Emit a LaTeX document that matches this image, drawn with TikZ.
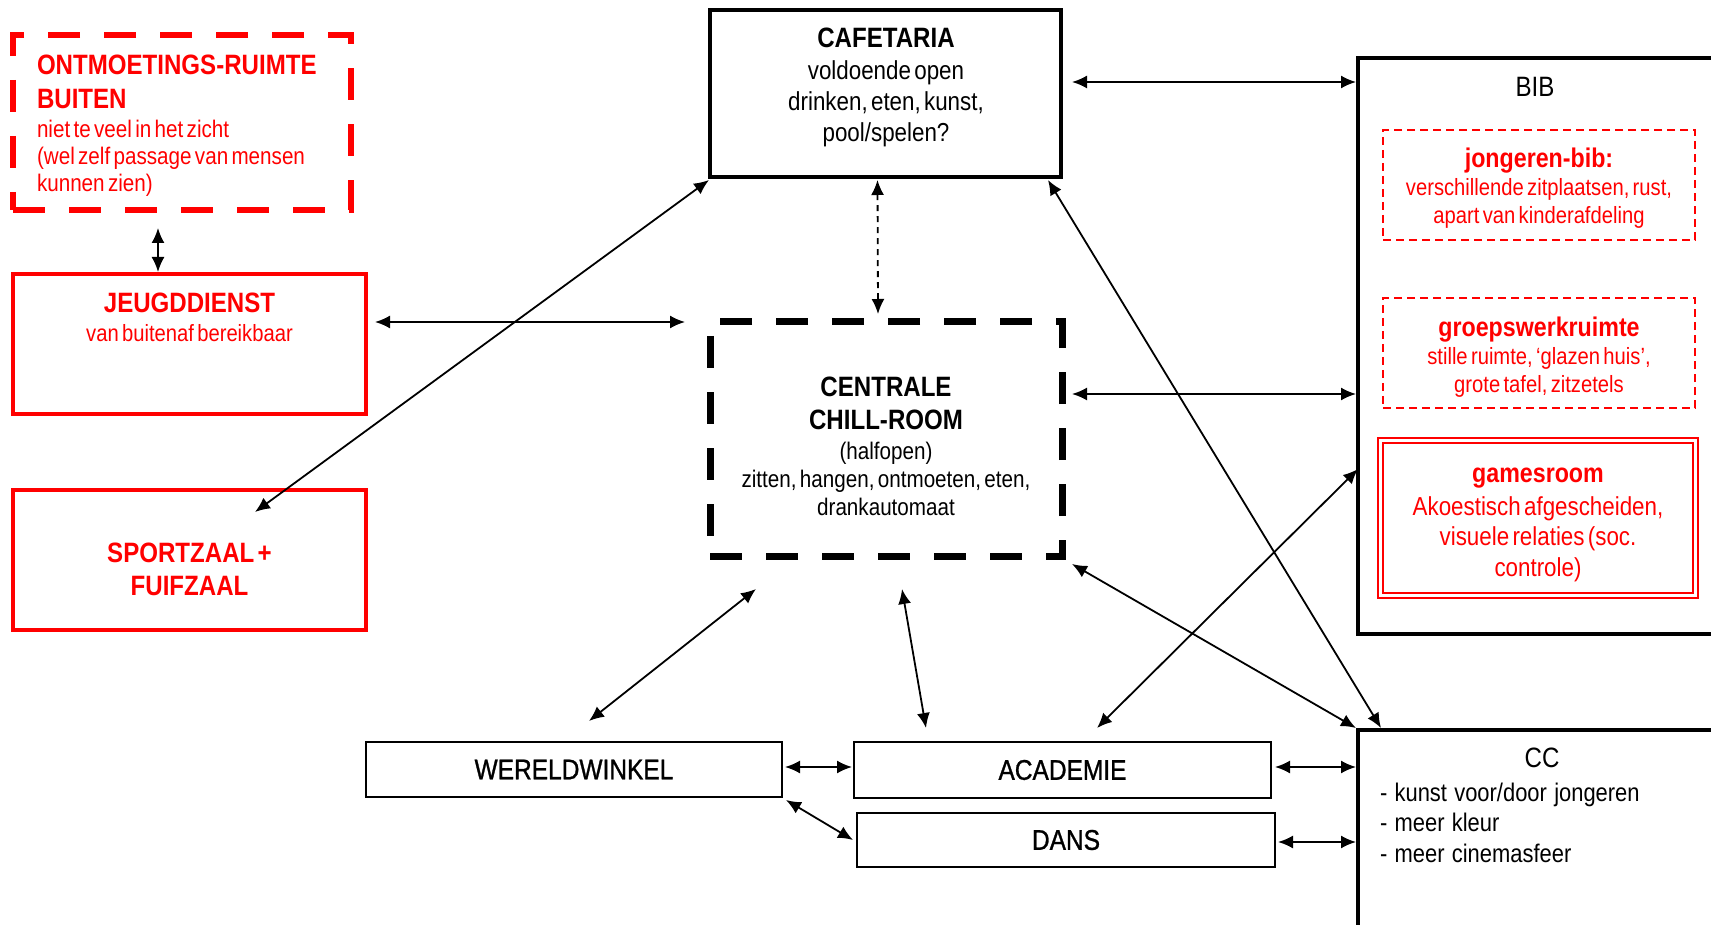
\documentclass[tikz,border=0pt]{standalone}
\usepackage{fontspec}
\setmainfont{Liberation Sans}[FakeStretch=0.86,WordSpace=1.2]
\newfontfamily\medfont{Liberation Sans}[FakeStretch=0.86,FakeBold=1,WordSpace=1.2]
\usetikzlibrary{arrows.meta,calc}
\newcommand\myfs[2]{\fontsize{#1}{#2}\selectfont}
\begin{document}
\begin{tikzpicture}[x=1pt,y=-1pt,
  box/.style={draw, rectangle, inner sep=0pt, outer sep=0pt},
  blackbox/.style={box, draw=black, line width=3.5pt},
  smallbox/.style={box, draw=black, line width=2.5pt, font=\medfont\myfs{28.5}{33}},
  redbox/.style={box, draw=red, line width=3.5pt},
  reddash/.style={box, draw=red, line width=2pt, dash pattern=on 8pt off 5pt},
  txt/.style={inner sep=0pt, outer sep=0pt, align=center},
  arr/.style={{Latex[length=15pt,width=13pt]}-{Latex[length=15pt,width=13pt]}, line width=1.8pt},
]
\useasboundingbox (0,0) rectangle (1711,925);
\clip (0,0) rectangle (1711,925);

% left column
\node[box, draw=red, line width=6.5pt, dash pattern=on 32pt off 24pt,
      minimum width=338, minimum height=175] (ontm) at (182,122.5) {};
\node[txt, text=red, anchor=north west, text width=305pt, align=left] (ontmtxt) at (37,55)
  {\myfs{28}{34}\bfseries ONTMOETINGS-RUIMTE\\BUITEN\par\vspace{2pt}
   \myfs{24}{27}\mdseries niet te veel in het zicht\\(wel zelf passage van mensen\\kunnen zien)\par};

\node[redbox, minimum width=353, minimum height=140] (jeugd) at (189.5,344) {};
\node[txt, text=red, anchor=north, text width=340pt] (jeugdtxt) at (189.5,293)
  {\centering\myfs{28}{34}\bfseries JEUGDDIENST\par\myfs{23.5}{28.5}\mdseries van buitenaf bereikbaar\par};

\node[redbox, minimum width=353, minimum height=140] (sport) at (189.5,560) {};
\node[txt, text=red, anchor=north, text width=340pt] (sporttxt) at (189.5,543)
  {\centering\myfs{28}{33}\bfseries SPORTZAAL +\\FUIFZAAL\par};

% centre
\node[blackbox, minimum width=351, minimum height=167] (cafe) at (885.5,93.5) {};
\node[txt, anchor=north, text width=340pt] (cafetxt) at (886,28)
  {\centering\myfs{28}{34}\bfseries CAFETARIA\par\vspace{1pt}
   \myfs{26}{31}\mdseries voldoende open\\drinken, eten, kunst,\\pool/spelen?\par};

\node[box, draw=black, line width=7pt, dash pattern=on 32pt off 24pt,
      minimum width=352, minimum height=234] (chill) at (886,439) {};
\node[txt, anchor=north, text width=340pt] (chilltxt) at (886,377)
  {\centering\myfs{28}{33}\bfseries CENTRALE\\CHILL-ROOM\par\vspace{1.5pt}
   \myfs{24}{28}\mdseries (halfopen)\\zitten, hangen, ontmoeten, eten,\\drankautomaat\par};

% right
\node[blackbox, minimum width=402, minimum height=576] (bib) at (1559,346) {};
\node[txt, anchor=north] (bibtxt) at (1535,77) {\myfs{28}{33}BIB};

\node[reddash, minimum width=312, minimum height=110] (jbib) at (1539,185) {};
\node[txt, text=red, text width=305pt] (jbibtxt) at ($(jbib.center)+(0,3)$)
  {\centering\myfs{27}{32}\bfseries jongeren-bib:\par\vspace{1pt}
   \myfs{23.5}{27.5}\mdseries verschillende zitplaatsen, rust,\\apart van kinderafdeling\par};

\node[reddash, minimum width=312, minimum height=110] (groep) at (1539,353) {};
\node[txt, text=red, text width=305pt] (groeptxt) at ($(groep.center)+(0,4)$)
  {\centering\myfs{27}{32}\bfseries groepswerkruimte\par\vspace{1pt}
   \myfs{23.5}{27.5}\mdseries stille ruimte, `glazen huis',\\grote tafel, zitzetels\par};

\node[box, draw=red, double=white, double distance=2.5pt, line width=2pt,
      minimum width=315, minimum height=155] (games) at (1538,518) {};
\node[txt, text=red, text width=305pt] (gamestxt) at ($(games.center)+(0,7)$)
  {\centering\myfs{27}{32}\bfseries gamesroom\par\vspace{2pt}
   \myfs{26}{30.5}\mdseries Akoestisch afgescheiden,\\visuele relaties (soc.\\controle)\par};

\node[blackbox, minimum width=402, minimum height=250] (cc) at (1559,855) {};
\node[txt, anchor=north] (cctxt) at (1542,748) {\myfs{28}{33}CC};
\node[txt, anchor=north west, align=left, font=\myfs{25.5}{30.5}] (ccitems) at (1380,783)
  {- kunst voor/door jongeren\\- meer kleur\\- meer cinemasfeer};

% bottom row
\node[smallbox, minimum width=416, minimum height=55] (wereld) at (574,769.5) {WERELDWINKEL};
\node[smallbox, minimum width=417, minimum height=56] (acad) at (1062.5,770) {ACADEMIE};
\node[smallbox, minimum width=418, minimum height=54] (dans) at (1066,840) {DANS};

% connectors
\draw[arr] ($(ontm.south west)+(145,18)$) -- ($(jeugd.north west)+(145,-2)$);
\draw[arr] ($(jeugd.north east)+(9,48)$) -- ($(chill.north west)+(-25,0)$);
\draw[arr] ($(sport.north west)+(242,22)$) -- ($(cafe.south west)+(-1,3)$);
\draw[arr] ($(cafe.east)+(11,-11.5)$) -- ($(bib.north west)+(-2,24)$);
\draw[arr, dash pattern=on 6pt off 5pt] ($(cafe.south)+(-8,3)$) -- ($(chill.north)+(-8,-8)$);
\draw[arr] ($(chill.east)+(10,-45)$) -- ($(bib.north west)+(-2,336)$);
\draw[arr] ($(cafe.south east)+(-13,3)$) -- ($(cc.north west)+(23,-2)$);
\draw[arr] ($(chill.south east)+(10,8)$) -- ($(cc.north west)+(-2,-2)$);
\draw[arr] ($(acad.north)+(34.5,-14)$) -- ($(bib.north west)+(0,411)$);
\draw[arr] ($(chill.south west)+(46,33)$) -- ($(wereld.north)+(15,-21)$);
\draw[arr] ($(chill.south west)+(192,33)$) -- ($(acad.north west)+(72,-14)$);
\draw[arr] ($(wereld.east)+(3,-2.5)$) -- ($(acad.west)+(-2,-3)$);
\draw[arr] ($(wereld.south east)+(4,3)$) -- ($(dans.west)+(-4,0)$);
\draw[arr] ($(acad.east)+(4,-3)$) -- ($(cc.north west)+(-2,37)$);
\draw[arr] ($(dans.east)+(3,2)$) -- ($(cc.north west)+(-2,112)$);
\end{tikzpicture}
\end{document}
